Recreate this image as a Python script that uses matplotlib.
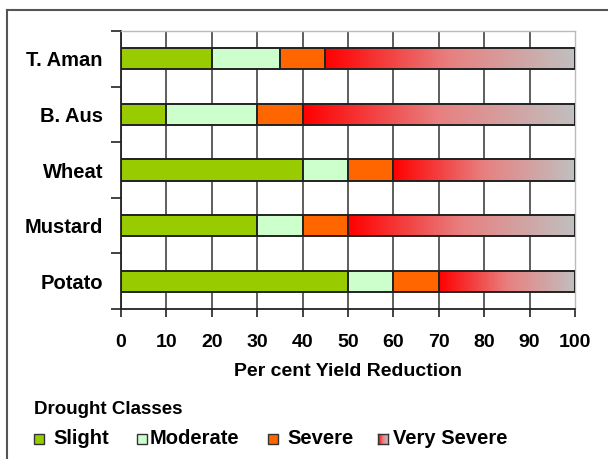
import numpy as np
import matplotlib
matplotlib.use("Agg")
import matplotlib.pyplot as plt
from matplotlib.patches import Rectangle
from matplotlib.colors import LinearSegmentedColormap

crops = ["T. Aman", "B. Aus", "Wheat", "Mustard", "Potato"]
slight = [20, 10, 40, 30, 50]
moderate = [15, 20, 10, 10, 10]
severe = [10, 10, 10, 10, 10]
very_severe = [55, 60, 40, 50, 30]
class_names = ["Slight", "Moderate", "Severe", "Very Severe"]
xticks = [0, 10, 20, 30, 40, 50, 60, 70, 80, 90, 100]

c_slight = "#99CC00"
c_mod = "#CCFFCC"
c_sev = "#FF6600"
grad = LinearSegmentedColormap.from_list("vs", ["#FF0000", "#E88080", "#C0C0C0"])

plt.rcParams['font.family'] = ['Liberation Sans', 'DejaVu Sans']
plt.rcParams['font.weight'] = 'bold'

W, H = 608, 459
fig = plt.figure(figsize=(W / 100, H / 100), dpi=100)
fig.patch.set_facecolor("white")

L, R, T, B = 121, 575, 31, 309
ax = fig.add_axes([L / W, 1 - B / H, (R - L) / W, (B - T) / H])

y = np.arange(len(crops))
bh = 0.38
edge = dict(edgecolor="#222222", linewidth=1.4)
left = np.zeros(len(crops))
ax.barh(y, slight, height=bh, left=left, color=c_slight, zorder=3, **edge)
left = left + np.array(slight)
ax.barh(y, moderate, height=bh, left=left, color=c_mod, zorder=3, **edge)
left = left + np.array(moderate)
ax.barh(y, severe, height=bh, left=left, color=c_sev, zorder=3, **edge)
left = left + np.array(severe)
vs_bars = ax.barh(y, very_severe, height=bh, left=left, color="none", zorder=4, **edge)

gimg = np.linspace(0, 1, 256).reshape(1, -1)
for i, bar in enumerate(vs_bars):
    x0 = left[i]
    x1 = left[i] + very_severe[i]
    im = ax.imshow(gimg, cmap=grad, aspect="auto", extent=[x0, x1, y[i] + bh / 2, y[i] - bh / 2],
                   zorder=3.5, interpolation="bilinear")
    clip = Rectangle((x0, y[i] - bh / 2), very_severe[i], bh, transform=ax.transData)
    im.set_clip_path(clip)

ax.set_xlim(0, 100)
ax.set_ylim(len(crops) - 0.5, -0.5)
ax.set_xticks(xticks)
ax.set_xticklabels([str(t) for t in xticks], fontsize=14, fontweight="bold")
ax.tick_params(axis="x", direction="out", length=6, width=1.2, color="#222222", pad=12)

ax.set_yticks(np.arange(len(crops) + 1) - 0.5)
ax.set_yticklabels([])
ax.tick_params(axis="y", which="major", direction="out", length=7, width=1.2, color="#222222")
ax.set_yticks(y, minor=True)
ax.set_yticklabels(crops, minor=True, fontsize=14.5, fontweight="bold")
ax.tick_params(axis="y", which="minor", length=0, pad=13)

ax.grid(axis="x", color="#333333", linewidth=1.1, zorder=1)
ax.set_axisbelow(True)
ax.get_xgridlines()[-1].set_visible(False)

for s in ["left", "bottom"]:
    ax.spines[s].set_color("#222222")
    ax.spines[s].set_linewidth(1.3)
for s in ["top", "right"]:
    ax.spines[s].set_color("#BBBBBB")
    ax.spines[s].set_linewidth(1.0)

ax.set_xlabel("Per cent Yield Reduction", fontsize=14, fontweight="bold", labelpad=9)

# Outer frame
fig.add_artist(plt.Line2D([7 / W, 7 / W], [0, 1 - 10 / H], transform=fig.transFigure,
                          color="#555555", linewidth=1.5))
fig.add_artist(plt.Line2D([7 / W, 1], [1 - 10 / H, 1 - 10 / H], transform=fig.transFigure,
                          color="#555555", linewidth=1.5))

# Legend
fig.text(34 / W, 1 - 410 / H, "Drought Classes", fontsize=13.5, fontweight="bold",
         ha="left", va="center")
sw_x = [34, 137, 268, 378]
tx_x = [53, 150, 287, 393]
row_y = 439
sz = 10
colors = [c_slight, c_mod, c_sev, None]
for k in range(4):
    if colors[k] is not None:
        fig.add_artist(Rectangle((sw_x[k] / W, 1 - (row_y + sz / 2) / H), sz / W, sz / H,
                                 transform=fig.transFigure, facecolor=colors[k],
                                 edgecolor="#333333", linewidth=1.0))
    else:
        gax = fig.add_axes([sw_x[k] / W, 1 - (row_y + sz / 2) / H, sz / W, sz / H])
        gax.imshow(gimg, cmap=grad, aspect="auto", interpolation="bilinear")
        gax.set_xticks([])
        gax.set_yticks([])
        for sp in gax.spines.values():
            sp.set_color("#333333")
            sp.set_linewidth(1.0)
    fig.text(tx_x[k] / W, 1 - row_y / H, class_names[k], fontsize=14.5, fontweight="bold",
             ha="left", va="center")

fig.savefig("out.png", dpi=100)
